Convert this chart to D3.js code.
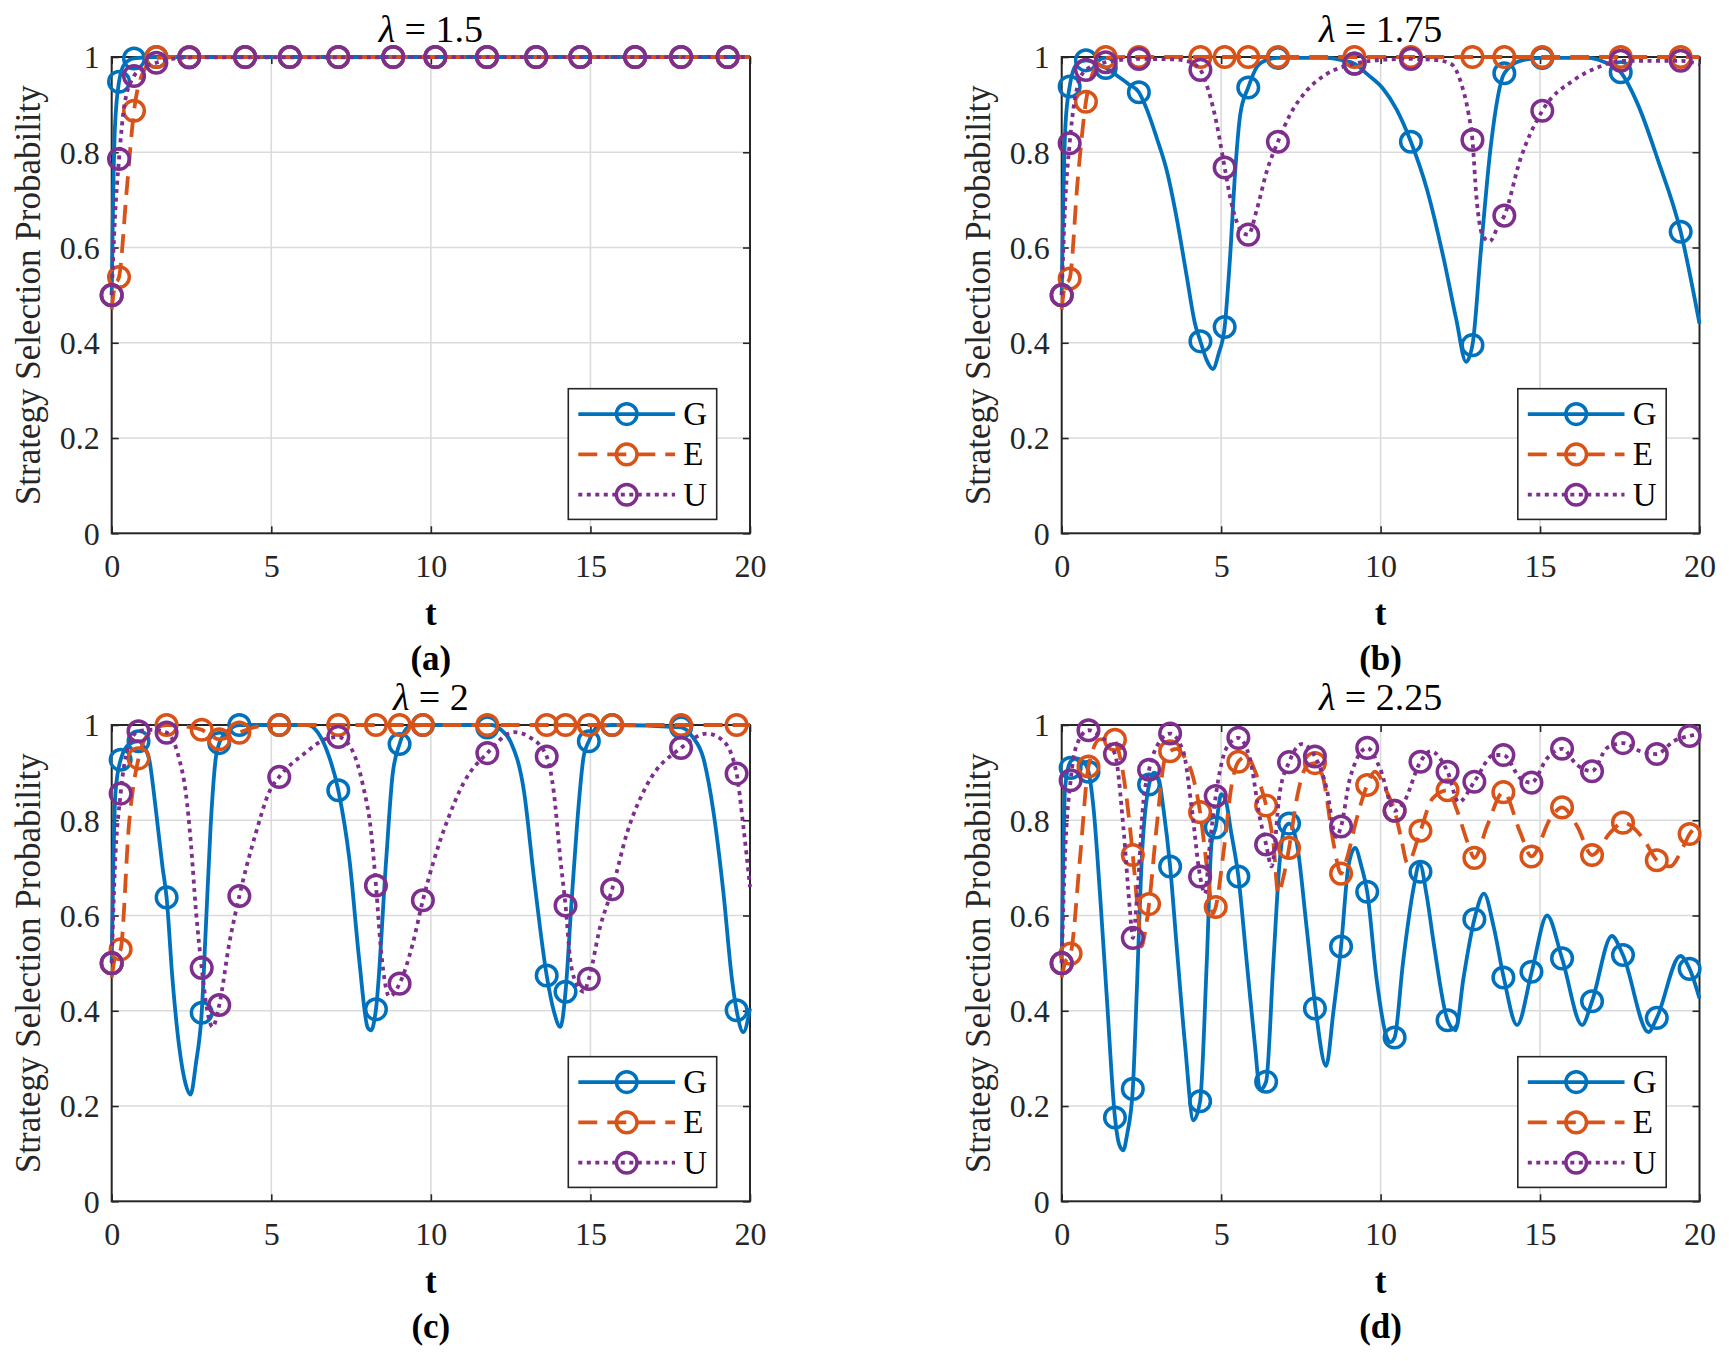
<!DOCTYPE html>
<html><head><meta charset="utf-8">
<script src="https://cdn.jsdelivr.net/npm/d3@7"></script>
<style>
body{margin:0;background:#fff}
svg{display:block}
svg text{font-family:"Liberation Serif","Times New Roman",Tinos,serif !important}
</style>
</head><body>
<svg id="chart" width="1729" height="1361"></svg>
<script>
// ---------- tick labels ----------
const xTicks = [0, 5, 10, 15, 20];
const xTickLabels = ["0", "5", "10", "15", "20"];
const yTicks = [0, 0.2, 0.4, 0.6, 0.8, 1];
const yTickLabels = ["0", "0.2", "0.4", "0.6", "0.8", "1"];
const seriesNames = ["G", "E", "U"];
const lambdas = ["1.5", "1.75", "2", "2.25"];
const panelTags = ["(a)", "(b)", "(c)", "(d)"];

// ---------- panel (a) λ = 1.5 ----------
const markerT_a = [0, 0.23, 0.7, 1.4, 2.43, 4.18, 5.58, 7.1, 8.82, 10.14, 11.76, 13.3, 14.68, 16.4, 17.84, 19.3];
const G_mk_a = [0.5, 0.948, 0.997, 1, 1, 1, 1, 1, 1, 1, 1, 1, 1, 1, 1, 1];
const E_mk_a = [0.5, 0.538, 0.887, 1, 1, 1, 1, 1, 1, 1, 1, 1, 1, 1, 1, 1];
const U_mk_a = [0.5, 0.786, 0.96, 0.988, 0.999, 1, 1, 1, 1, 1, 1, 1, 1, 1, 1, 1];
const G_line_a = [[0,0.5],[0.04,0.68],[0.1,0.85],[0.23,0.948],[0.4,0.985],[0.7,0.997],[1.4,1],[20,1]];
const E_line_a = [[0,0.47],[0.1,0.52],[0.23,0.538],[0.47,0.72],[0.7,0.887],[1.0,0.97],[1.4,0.998],[2,1],[20,1]];
const U_line_a = [[0,0.5],[0.1,0.66],[0.23,0.786],[0.4,0.9],[0.7,0.96],[1.0,0.978],[1.4,0.988],[2.43,0.999],[20,1]];

// ---------- panel (b) λ = 1.75 ----------
const markerT_b = [0, 0.25, 0.76, 1.38, 2.42, 4.35, 5.11, 5.85, 6.78, 9.18, 10.95, 12.88, 13.88, 15.07, 17.53, 19.41];
const G_mk_b = [0.5, 0.938, 0.993, 0.977, 0.926, 0.403, 0.433, 0.936, 0.998, 0.986, 0.822, 0.395, 0.966, 0.998, 0.968, 0.633];
const E_mk_b = [0.5, 0.535, 0.906, 1, 1, 1, 1, 1, 1, 1, 1, 1, 1, 1, 1, 1];
const U_mk_b = [0.5, 0.819, 0.973, 0.989, 0.996, 0.973, 0.768, 0.627, 0.822, 0.986, 0.996, 0.826, 0.667, 0.887, 0.992, 0.992];
const G_line_b = [[0,0.5],[0.05,0.7],[0.12,0.86],[0.25,0.938],[0.47,0.985],[0.76,0.993],[1.1,0.986],[1.38,0.977],[1.75,0.96],[2.1,0.943],[2.42,0.926],[2.67,0.89],[2.98,0.83],[3.3,0.76],[3.61,0.66],[3.92,0.54],[4.18,0.44],[4.35,0.403],[4.55,0.363],[4.74,0.345],[4.92,0.377],[5.11,0.433],[5.28,0.58],[5.44,0.76],[5.6,0.88],[5.85,0.936],[6.12,0.979],[6.43,0.994],[6.78,0.998],[8.3,0.998],[8.8,0.993],[9.18,0.986],[9.6,0.963],[10.06,0.935],[10.5,0.89],[10.95,0.822],[11.45,0.723],[11.99,0.573],[12.37,0.45],[12.68,0.36],[12.88,0.395],[13.14,0.59],[13.45,0.81],[13.88,0.966],[14.38,0.992],[15.07,0.998],[16.5,0.998],[16.99,0.99],[17.53,0.968],[18.07,0.9],[18.69,0.785],[19.41,0.633],[20,0.44]];
const E_line_b = [[0,0.47],[0.1,0.52],[0.25,0.535],[0.5,0.74],[0.76,0.906],[1.0,0.97],[1.38,0.998],[2,1],[20,1]];
const U_line_b = [[0,0.5],[0.1,0.68],[0.25,0.819],[0.5,0.94],[0.76,0.973],[1.38,0.989],[2.42,0.996],[3.5,0.995],[4.0,0.99],[4.35,0.973],[4.6,0.93],[4.86,0.86],[5.11,0.768],[5.3,0.7],[5.5,0.652],[5.7,0.63],[5.85,0.627],[6.12,0.68],[6.43,0.76],[6.78,0.822],[7.17,0.88],[7.69,0.93],[8.3,0.964],[9.18,0.986],[10.0,0.994],[10.95,0.996],[11.8,0.993],[12.22,0.985],[12.53,0.944],[12.76,0.88],[12.88,0.826],[13.0,0.71],[13.2,0.625],[13.42,0.613],[13.68,0.644],[13.88,0.667],[14.38,0.785],[15.07,0.887],[16.07,0.952],[16.84,0.979],[17.53,0.992],[19.41,0.992],[20,0.985]];

// ---------- panel (c) λ = 2 ----------
const markerT_c = [0, 0.28, 0.84, 1.72, 2.82, 3.37, 4.0, 5.25, 7.1, 8.28, 9.02, 9.75, 11.77, 13.63, 14.22, 14.95, 15.68, 17.84, 19.58];
const G_mk_c = [0.5, 0.927, 0.966, 0.638, 0.396, 0.962, 1.0, 1.0, 0.863, 0.403, 0.96, 1.0, 0.995, 0.474, 0.44, 0.966, 1.0, 0.995, 0.401];
const E_mk_c = [0.5, 0.529, 0.93, 1.0, 0.99, 0.97, 0.984, 1, 1, 1, 1, 1, 1, 1, 1, 1, 1, 1, 1];
const U_mk_c = [0.5, 0.856, 0.987, 0.984, 0.49, 0.412, 0.641, 0.891, 0.975, 0.663, 0.457, 0.632, 0.941, 0.934, 0.621, 0.467, 0.655, 0.952, 0.898];
const G_line_c = [[0,0.5],[0.05,0.7],[0.12,0.86],[0.28,0.927],[0.55,0.96],[0.84,0.966],[1.0,0.955],[1.17,0.93],[1.38,0.824],[1.59,0.703],[1.72,0.638],[1.9,0.47],[2.11,0.327],[2.32,0.245],[2.47,0.224],[2.64,0.29],[2.82,0.396],[2.95,0.575],[3.1,0.788],[3.26,0.93],[3.37,0.962],[3.68,0.99],[4.0,1.0],[6.15,1.0],[6.45,0.985],[6.72,0.95],[7.1,0.863],[7.45,0.717],[7.76,0.504],[8.02,0.365],[8.13,0.359],[8.28,0.403],[8.6,0.717],[8.8,0.895],[9.02,0.96],[9.33,0.997],[9.75,1.0],[11.9,1.0],[12.2,0.99],[12.5,0.965],[12.92,0.86],[13.23,0.68],[13.63,0.474],[13.85,0.4],[14.06,0.366],[14.22,0.44],[14.4,0.62],[14.58,0.79],[14.79,0.935],[14.95,0.966],[15.2,0.995],[15.68,1.0],[17.84,0.995],[18.2,0.975],[18.54,0.93],[18.85,0.82],[19.17,0.646],[19.43,0.469],[19.58,0.401],[19.79,0.355],[20,0.405]];
const E_line_c = [[0,0.47],[0.1,0.51],[0.28,0.529],[0.54,0.79],[0.84,0.93],[1.2,0.985],[1.72,1.0],[2.3,0.997],[2.82,0.99],[3.1,0.978],[3.37,0.97],[3.7,0.975],[4.0,0.984],[4.6,0.997],[5.25,1.0],[20,1.0]];
const U_line_c = [[0,0.5],[0.1,0.7],[0.28,0.856],[0.5,0.95],[0.84,0.987],[1.3,0.99],[1.72,0.984],[2.11,0.93],[2.32,0.859],[2.48,0.753],[2.64,0.61],[2.82,0.49],[3.0,0.398],[3.16,0.366],[3.37,0.412],[3.68,0.54],[4.0,0.641],[4.52,0.774],[4.94,0.86],[5.25,0.891],[5.98,0.937],[6.82,0.973],[7.1,0.975],[7.55,0.945],[7.87,0.874],[8.13,0.774],[8.28,0.663],[8.44,0.526],[8.7,0.43],[9.02,0.457],[9.43,0.54],[9.75,0.632],[10.1,0.717],[10.52,0.8],[11.04,0.88],[11.77,0.941],[12.6,0.985],[13.13,0.973],[13.63,0.934],[13.85,0.86],[14.06,0.717],[14.22,0.621],[14.375,0.504],[14.58,0.455],[14.79,0.44],[14.95,0.467],[15.3,0.575],[15.68,0.655],[16.15,0.774],[16.77,0.874],[17.84,0.952],[18.65,0.982],[19.17,0.966],[19.58,0.898],[19.79,0.788],[20,0.66]];

// ---------- panel (d) λ = 2.25 ----------
const markerT_d = [0, 0.28, 0.84, 1.67, 2.23, 2.74, 3.4, 4.34, 4.83, 5.54, 6.41, 7.13, 7.94, 8.76, 9.58, 10.44, 11.25, 12.1, 12.94, 13.85, 14.73, 15.69, 16.63, 17.6, 18.66, 19.69];
const G_mk_d = [0.5, 0.91, 0.902, 0.176, 0.236, 0.875, 0.703, 0.21, 0.785, 0.682, 0.251, 0.793, 0.405, 0.535, 0.65, 0.344, 0.692, 0.38, 0.592, 0.47, 0.482, 0.51, 0.42, 0.517, 0.385, 0.488];
const E_mk_d = [0.5, 0.52, 0.913, 0.969, 0.727, 0.624, 0.945, 0.817, 0.618, 0.923, 0.831, 0.742, 0.92, 0.688, 0.874, 0.82, 0.778, 0.863, 0.721, 0.859, 0.724, 0.827, 0.727, 0.795, 0.716, 0.771];
const U_mk_d = [0.5, 0.884, 0.989, 0.939, 0.553, 0.906, 0.982, 0.682, 0.851, 0.973, 0.749, 0.922, 0.934, 0.787, 0.952, 0.82, 0.923, 0.902, 0.881, 0.937, 0.879, 0.95, 0.903, 0.962, 0.939, 0.977];
const G_line_d = [[0,0.5],[0.05,0.72],[0.1,0.86],[0.2,0.91],[0.3,0.925],[0.45,0.93],[0.68,0.923],[0.84,0.902],[1.0,0.824],[1.2,0.646],[1.41,0.433],[1.67,0.176],[1.8,0.12],[1.93,0.107],[2.05,0.14],[2.23,0.236],[2.35,0.433],[2.51,0.717],[2.74,0.875],[2.9,0.9],[3.05,0.885],[3.19,0.824],[3.4,0.703],[3.6,0.54],[3.87,0.327],[4.13,0.17],[4.34,0.21],[4.55,0.504],[4.7,0.753],[4.83,0.785],[5.0,0.855],[5.15,0.84],[5.3,0.78],[5.54,0.682],[5.8,0.504],[6.06,0.327],[6.22,0.234],[6.41,0.251],[6.64,0.504],[6.84,0.717],[7.0,0.785],[7.13,0.793],[7.37,0.753],[7.68,0.575],[7.96,0.405],[8.29,0.284],[8.52,0.398],[8.76,0.535],[8.99,0.703],[9.2,0.742],[9.4,0.703],[9.58,0.65],[9.87,0.469],[10.19,0.345],[10.3,0.334],[10.44,0.344],[10.7,0.5],[11.04,0.66],[11.22,0.71],[11.45,0.64],[11.67,0.54],[12.1,0.38],[12.35,0.359],[12.6,0.469],[12.94,0.592],[13.24,0.646],[13.55,0.575],[13.86,0.47],[14.28,0.37],[14.74,0.482],[15.22,0.6],[15.69,0.51],[16.32,0.37],[16.63,0.42],[17.25,0.557],[17.6,0.517],[18.4,0.355],[18.66,0.385],[19.4,0.515],[19.69,0.488],[20,0.426]];
const E_line_d = [[0,0.47],[0.1,0.5],[0.28,0.52],[0.57,0.717],[0.84,0.913],[1.2,0.97],[1.62,0.969],[1.88,0.916],[2.23,0.727],[2.4,0.6],[2.5,0.535],[2.6,0.56],[2.74,0.624],[2.98,0.788],[3.24,0.93],[3.4,0.945],[3.6,0.95],[3.81,0.937],[4.13,0.888],[4.34,0.817],[4.6,0.675],[4.75,0.604],[4.83,0.618],[5.07,0.73],[5.33,0.874],[5.54,0.923],[5.8,0.934],[6.11,0.895],[6.41,0.831],[6.64,0.75],[6.79,0.646],[6.95,0.68],[7.13,0.742],[7.37,0.845],[7.68,0.913],[7.94,0.92],[8.2,0.888],[8.52,0.753],[8.76,0.688],[8.93,0.717],[9.25,0.803],[9.58,0.874],[9.82,0.902],[10.19,0.86],[10.44,0.82],[10.65,0.76],[10.84,0.71],[11.25,0.778],[11.62,0.845],[12.1,0.863],[12.4,0.82],[12.73,0.753],[12.94,0.721],[13.34,0.788],[13.85,0.859],[14.38,0.774],[14.73,0.724],[15.32,0.803],[15.69,0.827],[16.16,0.788],[16.63,0.727],[17.2,0.774],[17.6,0.795],[18.25,0.76],[18.66,0.716],[19.08,0.703],[19.5,0.746],[19.69,0.771],[20,0.788]];
const U_line_d = [[0,0.5],[0.1,0.717],[0.28,0.884],[0.47,0.958],[0.84,0.989],[1.2,0.977],[1.67,0.939],[1.93,0.788],[2.14,0.611],[2.23,0.553],[2.37,0.646],[2.56,0.838],[2.74,0.906],[3.08,0.966],[3.4,0.982],[3.81,0.945],[4.08,0.824],[4.34,0.682],[4.49,0.646],[4.65,0.753],[4.83,0.851],[5.17,0.952],[5.54,0.973],[5.9,0.93],[6.22,0.803],[6.41,0.749],[6.58,0.703],[6.84,0.859],[7.13,0.922],[7.52,0.96],[7.94,0.934],[8.31,0.866],[8.6,0.765],[8.76,0.787],[9.04,0.888],[9.58,0.952],[9.98,0.909],[10.44,0.82],[10.73,0.838],[11.25,0.923],[11.57,0.945],[12.1,0.902],[12.45,0.838],[12.94,0.881],[13.55,0.937],[13.85,0.937],[14.38,0.888],[14.73,0.879],[15.22,0.93],[15.69,0.95],[16.16,0.916],[16.63,0.903],[17.1,0.952],[17.6,0.962],[18.14,0.945],[18.66,0.939],[19.19,0.966],[19.69,0.977],[20,0.98]];

// ---------- assemble ----------
const panels = [
  {col:0,row:0,tag:panelTags[0],lam:lambdas[0],mt:markerT_a,mk:[G_mk_a,E_mk_a,U_mk_a],ln:[G_line_a,E_line_a,U_line_a]},
  {col:1,row:0,tag:panelTags[1],lam:lambdas[1],mt:markerT_b,mk:[G_mk_b,E_mk_b,U_mk_b],ln:[G_line_b,E_line_b,U_line_b]},
  {col:0,row:1,tag:panelTags[2],lam:lambdas[2],mt:markerT_c,mk:[G_mk_c,E_mk_c,U_mk_c],ln:[G_line_c,E_line_c,U_line_c]},
  {col:1,row:1,tag:panelTags[3],lam:lambdas[3],mt:markerT_d,mk:[G_mk_d,E_mk_d,U_mk_d],ln:[G_line_d,E_line_d,U_line_d]}
];
const styles = [
  {color:"#0072BD", dash:null},
  {color:"#D95319", dash:"19,10"},
  {color:"#7E2F8E", dash:"4,4.5"}
];
const cols = [[111.7, 750], [1061.7, 1699.5]];
const rows = [[57, 533.3], [725, 1201.3]];
const AX = "#262626", GRID = "#dbdbdb";
const LW = 3.8, MR = 10.3, MW = 3.5;
const FONT = '"Liberation Serif","Times New Roman",Tinos,serif';

const svg = d3.select("#chart");

panels.forEach(p => {
  const [x0, x1] = cols[p.col], [y0, y1] = rows[p.row];
  const x = d3.scaleLinear().domain([0, 20]).range([x0, x1]);
  const y = d3.scaleLinear().domain([0, 1]).range([y1, y0]);
  const g = svg.append("g");

  // grid
  g.append("g").selectAll("line").data(xTicks.slice(1, -1)).join("line")
    .attr("x1", d => x(d)).attr("x2", d => x(d)).attr("y1", y0).attr("y2", y1)
    .attr("stroke", GRID).attr("stroke-width", 1.6);
  g.append("g").selectAll("line").data(yTicks.slice(1, -1)).join("line")
    .attr("y1", d => y(d)).attr("y2", d => y(d)).attr("x1", x0).attr("x2", x1)
    .attr("stroke", GRID).attr("stroke-width", 1.6);

  // axes (inward ticks on all four sides)
  const styleAxis = sel => {
    sel.attr("font-family", FONT);
    sel.select(".domain").remove();
    sel.selectAll(".tick line").attr("stroke", AX).attr("stroke-width", 1.6);
    sel.selectAll(".tick text").attr("fill", AX).attr("font-size", 32).attr("font-family", FONT);
  };
  const bx = g.append("g").attr("transform", `translate(0,${y1})`)
    .call(d3.axisBottom(x).tickValues(xTicks).tickFormat((d, i) => xTickLabels[i]).tickSizeInner(-7).tickSizeOuter(0));
  styleAxis(bx);
  bx.selectAll(".tick text").attr("y", 44).attr("dy", 0);
  const tx = g.append("g").attr("transform", `translate(0,${y0})`)
    .call(d3.axisTop(x).tickValues(xTicks).tickFormat("").tickSizeInner(-7).tickSizeOuter(0));
  styleAxis(tx);
  const ly = g.append("g").attr("transform", `translate(${x0},0)`)
    .call(d3.axisLeft(y).tickValues(yTicks).tickFormat((d, i) => yTickLabels[i]).tickSizeInner(-7).tickSizeOuter(0));
  styleAxis(ly);
  ly.selectAll(".tick text").attr("x", -12).attr("dy", "0.34em");
  const ry = g.append("g").attr("transform", `translate(${x1},0)`)
    .call(d3.axisRight(y).tickValues(yTicks).tickFormat("").tickSizeInner(-7).tickSizeOuter(0));
  styleAxis(ry);
  g.append("rect").attr("x", x0).attr("y", y0).attr("width", x1 - x0).attr("height", y1 - y0)
    .attr("fill", "none").attr("stroke", AX).attr("stroke-width", 2);

  // labels
  const cx = (x0 + x1) / 2;
  const title = g.append("text").attr("x", cx).attr("y", y0 - 15.3).attr("text-anchor", "middle")
    .attr("font-family", FONT).attr("font-size", 38).attr("fill", "#000");
  title.append("tspan").attr("font-style", "italic").text("λ");
  title.append("tspan").text(" = " + p.lam);
  g.append("text").attr("x", cx).attr("y", y1 + 92).attr("text-anchor", "middle")
    .attr("font-family", FONT).attr("font-size", 35).attr("font-weight", "bold").attr("fill", "#000").text("t");
  g.append("text").attr("x", cx).attr("y", y1 + 137).attr("text-anchor", "middle")
    .attr("font-family", FONT).attr("font-size", 35).attr("font-weight", "bold").attr("fill", "#000").text(p.tag);
  g.append("text").attr("transform", `translate(${x0 - 72},${(y0 + y1) / 2}) rotate(-90)`)
    .attr("text-anchor", "middle").attr("font-family", FONT).attr("font-size", 35).attr("fill", AX)
    .text("Strategy Selection Probability");

  // data
  const line = d3.line().x(d => x(d[0])).y(d => y(d[1])).curve(d3.curveMonotoneX);
  styles.forEach((s, k) => {
    const sg = g.append("g");
    sg.append("path").attr("d", line(p.ln[k])).attr("fill", "none")
      .attr("stroke", s.color).attr("stroke-width", LW)
      .attr("stroke-dasharray", s.dash).attr("stroke-linejoin", "round");
    sg.selectAll("circle").data(p.mt.map((t, i) => [t, p.mk[k][i]])).join("circle")
      .attr("cx", d => x(d[0])).attr("cy", d => y(d[1])).attr("r", MR)
      .attr("fill", "none").attr("stroke", s.color).attr("stroke-width", MW);
  });

  // legend (southeast)
  const lw = 148.4, lh = 130.7;
  const lx = x1 - 33.3 - lw, lyy = y1 - 13.9 - lh;
  const lg = g.append("g").attr("transform", `translate(${lx},${lyy})`);
  lg.append("rect").attr("width", lw).attr("height", lh).attr("fill", "#fff")
    .attr("stroke", AX).attr("stroke-width", 1.6);
  styles.forEach((s, k) => {
    const ry0 = 25.4 + 40.3 * k;
    lg.append("line").attr("x1", 10).attr("x2", 106.7).attr("y1", ry0).attr("y2", ry0)
      .attr("stroke", s.color).attr("stroke-width", LW).attr("stroke-dasharray", s.dash);
    lg.append("circle").attr("cx", 58.4).attr("cy", ry0).attr("r", MR)
      .attr("fill", "none").attr("stroke", s.color).attr("stroke-width", MW);
    lg.append("text").attr("x", 115).attr("y", ry0 + 11).attr("font-family", FONT).attr("font-size", 33)
      .attr("fill", "#000").text(seriesNames[k]);
  });
});
</script>
</body></html>
